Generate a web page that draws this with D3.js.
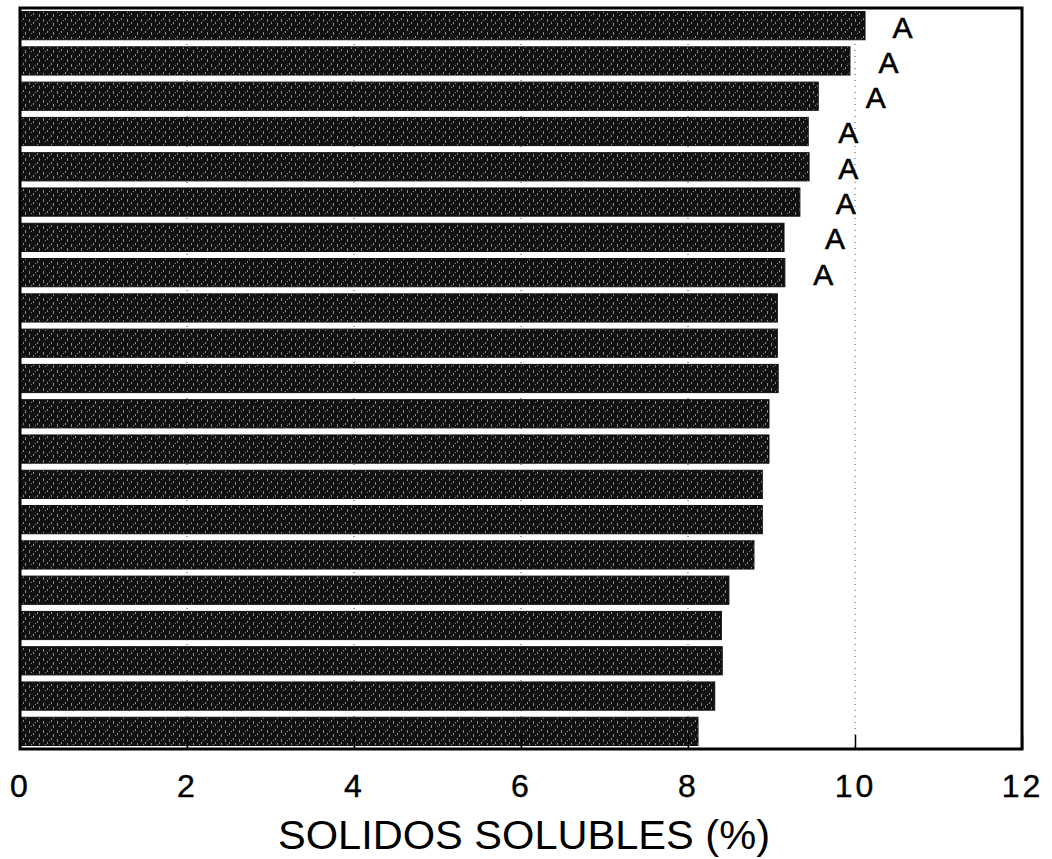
<!DOCTYPE html>
<html>
<head>
<meta charset="utf-8">
<script src="https://cdn.jsdelivr.net/npm/d3@7"></script>
<style>
  html, body { margin: 0; padding: 0; background: #fff; }
  svg { display: block; }
</style>
</head>
<body>
<svg id="chart" width="1052" height="859"></svg>
<script>
// ---- data ----
const categories = ["T1","T2","T3","T4","T5","T6","T7","T8","T9","T10","T11",
                    "T12","T13","T14","T15","T16","T17","T18","T19","T20","T21"];
const values = [10.12, 9.94, 9.56, 9.44, 9.45, 9.34, 9.15, 9.16, 9.07, 9.07, 9.08,
                8.97, 8.97, 8.89, 8.89, 8.79, 8.49, 8.40, 8.41, 8.32, 8.12];
const groupLabels = ["A","A","A","A","A","A","A","A","","","","","","","","","","","","",""];
const labelPos = [10.57, 10.40, 10.25, 9.92, 9.92, 9.89, 9.76, 9.62];
const xTicks = [0, 2, 4, 6, 8, 10, 12];
const gridTicks = [2, 4, 6, 8, 10];
const xTitle = "SOLIDOS SOLUBLES (%)";

// ---- layout ----
const svg = d3.select("#chart");
const mLeft = 20, mRight = 1022, mTop = 8, mBottom = 749;

const x = d3.scaleLinear().domain([0, 12]).range([mLeft, mRight]);
const y = d3.scaleBand().domain(categories).range([mTop, mBottom])
            .paddingInner(0.2).paddingOuter(0.1);

// texture pattern to mimic the scanned halftone bars
const defs = svg.append("defs");
const pat = defs.append("pattern").attr("id", "tex")
  .attr("patternUnits", "userSpaceOnUse").attr("width", 14).attr("height", 9);
pat.append("rect").attr("width", 14).attr("height", 9).attr("fill", "#111");
[[1,1,1,3],[5,4,1,2],[9,0,1,2],[11,5,1,3],[3,6,1,1],[7,2,1,1]].forEach(d => {
  pat.append("rect").attr("x", d[0]).attr("y", d[1]).attr("width", d[2]).attr("height", d[3])
     .attr("fill", "#8a8a8a");
});

// gridlines (dotted)
svg.append("g").selectAll("line").data(gridTicks).join("line")
  .attr("x1", d => x(d)).attr("x2", d => x(d))
  .attr("y1", mTop).attr("y2", mBottom)
  .attr("stroke", "#444").attr("stroke-width", 1)
  .attr("stroke-dasharray", "1,5");

// bars
svg.append("g").selectAll("rect").data(values).join("rect")
  .attr("x", x(0))
  .attr("y", (d, i) => y(categories[i]))
  .attr("width", d => x(d) - x(0))
  .attr("height", y.bandwidth())
  .attr("fill", "url(#tex)")
  .attr("stroke", "#111").attr("stroke-width", 1);

// group letters
svg.append("g").selectAll("text").data(labelPos).join("text")
  .attr("x", d => x(d))
  .attr("y", (d, i) => y(categories[i]) + y.bandwidth() / 2 + 4)
  .attr("text-anchor", "middle")
  .attr("dominant-baseline", "middle")
  .attr("font-family", "Liberation Sans, Arial, sans-serif")
  .attr("font-size", 30)
  .attr("fill", "#000")
  .attr("stroke", "#000").attr("stroke-width", 0.6)
  .text((d, i) => groupLabels[i]);

// frame
svg.append("rect")
  .attr("x", mLeft).attr("y", mTop)
  .attr("width", mRight - mLeft).attr("height", mBottom - mTop)
  .attr("fill", "none").attr("stroke", "#000").attr("stroke-width", 3);

// x axis (ticks inward, labels below)
const axis = d3.axisBottom(x).tickValues(xTicks).tickSizeInner(-14).tickSizeOuter(0)
  .tickPadding(40).tickFormat(d3.format("d"));
const gAxis = svg.append("g").attr("transform", `translate(0,${mBottom})`).call(axis);
gAxis.select(".domain").remove();
gAxis.selectAll(".tick line").attr("stroke", "#000").attr("stroke-width", 1.5);
gAxis.selectAll(".tick text")
  .attr("font-family", "Liberation Sans, Arial, sans-serif")
  .attr("font-size", 32)
  .attr("letter-spacing", 3)
  .attr("fill", "#000")
  .attr("stroke", "#000").attr("stroke-width", 0.4)
  .attr("dy", null)
  .attr("y", 48);

// axis title
svg.append("text")
  .attr("x", 524).attr("y", 849)
  .attr("text-anchor", "middle")
  .attr("font-family", "Liberation Sans, Arial, sans-serif")
  .attr("font-size", 40)
  .attr("textLength", 492)
  .attr("lengthAdjust", "spacingAndGlyphs")
  .attr("fill", "#000")
  .text(xTitle);
</script>
</body>
</html>
